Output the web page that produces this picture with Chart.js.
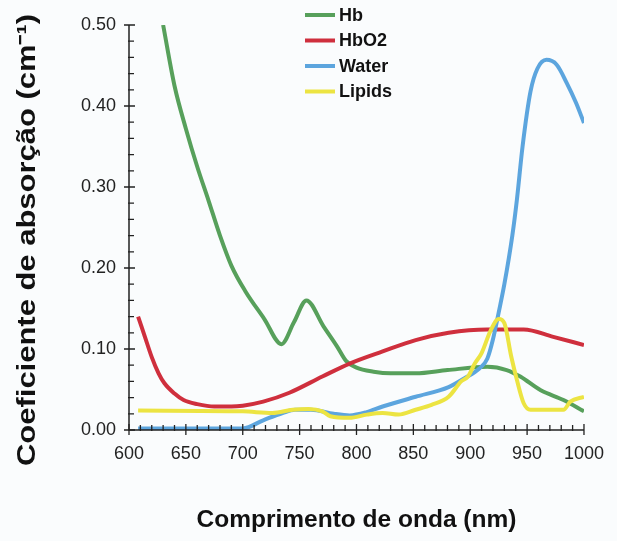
<!DOCTYPE html>
<html>
<head>
<meta charset="utf-8">
<script src="https://cdn.jsdelivr.net/npm/chart.js@4/dist/chart.umd.min.js"></script>
<style>
html,body{margin:0;padding:0;background:#fafcfd;}
canvas{display:block;}
</style>
</head>
<body>
<canvas id="c" width="617" height="541"></canvas>
<script>
// ---- data ----
const seriesNames = ["Hb", "HbO2", "Water", "Lipids"];
const seriesColors = ["#57a05b", "#cf2f3d", "#5ca5de", "#ece442"];

const hbX = [630, 640, 650, 660, 670, 680, 690, 702, 719, 734, 745, 756, 771, 783, 791, 800, 815, 830, 852, 880, 915, 932, 944, 962, 982, 1000];
const hbY = [0.500, 0.425, 0.372, 0.325, 0.283, 0.240, 0.203, 0.172, 0.137, 0.106, 0.133, 0.160, 0.128, 0.103, 0.085, 0.077, 0.072, 0.070, 0.070, 0.074, 0.078, 0.074, 0.066, 0.049, 0.037, 0.023];

const hbo2X = [608, 614, 620, 626, 631, 640, 648, 660, 675, 690, 700, 718, 741, 770, 794, 823, 852, 881, 915, 947, 973, 1000];
const hbo2Y = [0.140, 0.115, 0.090, 0.070, 0.058, 0.045, 0.037, 0.032, 0.029, 0.029, 0.030, 0.035, 0.046, 0.066, 0.082, 0.097, 0.111, 0.120, 0.124, 0.124, 0.115, 0.105];

const waterX = [608, 700, 718, 735, 746, 760, 780, 794, 809, 823, 852, 881, 895, 908, 915, 920, 925, 930, 937, 941, 946, 953, 959, 967, 976, 985, 993, 1000];
const waterY = [0.002, 0.002, 0.012, 0.021, 0.025, 0.025, 0.020, 0.018, 0.022, 0.029, 0.041, 0.053, 0.064, 0.076, 0.088, 0.112, 0.145, 0.180, 0.240, 0.284, 0.350, 0.418, 0.446, 0.457, 0.451, 0.428, 0.404, 0.379];

const lipX = [608, 700, 726, 744, 758, 770, 777, 794, 809, 823, 837, 852, 866, 881, 892, 898, 904, 910, 918, 925, 930, 936, 941, 947, 953, 982, 988, 1000];
const lipY = [0.024, 0.023, 0.021, 0.025, 0.026, 0.023, 0.017, 0.015, 0.019, 0.021, 0.019, 0.025, 0.031, 0.041, 0.060, 0.066, 0.082, 0.095, 0.123, 0.137, 0.132, 0.091, 0.062, 0.033, 0.025, 0.025, 0.035, 0.041];

const xMin = 600, xMax = 1000, xStep = 10, xMajor = 50;
const yMin = 0, yMax = 0.5, yStep = 0.02, yMajor = 0.1;
const xTitle = "Comprimento de onda (nm)";
const yTitle = "Coeficiente de absorção (cm⁻¹)";

const seriesX = [hbX, hbo2X, waterX, lipX];
const seriesY = [hbY, hbo2Y, waterY, lipY];

function pts(xs, ys){ return xs.map((x,i)=>({x:x, y:ys[i]})); }
function isMult(v, m){ const r = v/m; return Math.abs(r - Math.round(r)) < 1e-6; }

const datasets = seriesNames.map((n,i)=>({
  label: n,
  data: pts(seriesX[i], seriesY[i]),
  borderColor: seriesColors[i],
  backgroundColor: seriesColors[i],
  borderWidth: 4,
  pointRadius: 0,
  cubicInterpolationMode: 'monotone',
  fill: false,
  order: 4 - i
}));

const bgPlugin = {
  id: 'bg',
  beforeDraw(chart){
    const ctx = chart.ctx;
    ctx.save();
    ctx.fillStyle = '#fafcfd';
    ctx.fillRect(0,0,chart.width,chart.height);
    ctx.restore();
  }
};

const axesPlugin = {
  id: 'axesTicks',
  afterDraw(chart){
    const ctx = chart.ctx;
    const xs = chart.scales.x, ys = chart.scales.y;
    const x0 = xs.left, x1 = xs.right, y0 = ys.bottom, y1 = ys.top;
    ctx.save();
    ctx.strokeStyle = '#222';
    ctx.lineWidth = 1.5;
    ctx.beginPath();
    ctx.moveTo(x0, y1); ctx.lineTo(x0, y0); ctx.lineTo(x1, y0);
    ctx.stroke();
    ctx.lineWidth = 1.3;
    ctx.beginPath();
    xs.ticks.forEach(t=>{
      const px = xs.getPixelForValue(t.value);
      if (isMult(t.value, xMajor)) { ctx.moveTo(px, y0+5); ctx.lineTo(px, y0-6); }
      else { ctx.moveTo(px, y0+1); ctx.lineTo(px, y0-5); }
    });
    ys.ticks.forEach(t=>{
      const py = ys.getPixelForValue(t.value);
      if (isMult(t.value, yMajor)) { ctx.moveTo(x0-5, py); ctx.lineTo(x0+6, py); }
      else { ctx.moveTo(x0-1, py); ctx.lineTo(x0+5, py); }
    });
    ctx.stroke();

    // y axis title, stretched along its length like the reference
    ctx.font = 'bold 25px "Liberation Sans", Arial, sans-serif';
    ctx.fillStyle = '#111';
    ctx.textAlign = 'center';
    ctx.textBaseline = 'middle';
    const w = ctx.measureText(yTitle).width;
    const sx = 452 / w;
    ctx.translate(28, 240);
    ctx.rotate(-Math.PI/2);
    ctx.scale(sx, 1);
    ctx.fillText(yTitle, 0, 0);
    ctx.restore();
  }
};

const legendPlugin = {
  id: 'legendBox',
  afterDraw(chart){
    const ctx = chart.ctx;
    ctx.save();
    ctx.font = 'bold 18px "Liberation Sans", Arial, sans-serif';
    ctx.textBaseline = 'middle';
    ctx.textAlign = 'left';
    chart.data.datasets.forEach((d,i)=>{
      const y = 15 + i*25.5;
      ctx.strokeStyle = d.borderColor;
      ctx.lineWidth = 4;
      ctx.beginPath(); ctx.moveTo(305, y); ctx.lineTo(335, y); ctx.stroke();
      ctx.fillStyle = '#111';
      ctx.fillText(d.label, 339, y+1);
    });
    ctx.restore();
  }
};

new Chart(document.getElementById('c'), {
  type: 'line',
  data: { datasets: datasets },
  options: {
    responsive: false,
    animation: false,
    layout: { padding: { left: 0, right: 26, top: 25, bottom: 0 } },
    plugins: { legend: { display: false }, tooltip: { enabled: false } },
    scales: {
      x: {
        type: 'linear', min: xMin, max: xMax,
        grid: { display: false, drawTicks: false },
        border: { display: false },
        ticks: {
          stepSize: xStep, autoSkip: false, maxRotation: 0,
          color: '#222', padding: 13,
          font: { family: '"Liberation Sans", Arial, sans-serif', size: 18 },
          callback: v => isMult(v, xMajor) ? String(v) : ''
        },
        title: {
          display: true, text: xTitle, color: '#111',
          font: { family: '"Liberation Sans", Arial, sans-serif', size: 24.5, weight: 'bold' },
          padding: { top: 0, bottom: 6 }
        },
        afterFit: s => { s.height = 111; }
      },
      y: {
        type: 'linear', min: yMin, max: yMax,
        grid: { display: false, drawTicks: false },
        border: { display: false },
        ticks: {
          stepSize: yStep, autoSkip: false,
          color: '#222', padding: 13,
          font: { family: '"Liberation Sans", Arial, sans-serif', size: 18 },
          callback: v => isMult(v, yMajor) ? v.toFixed(2) : ''
        },
        title: { display: false },
        afterFit: s => { s.width = 129; }
      }
    }
  },
  plugins: [bgPlugin, axesPlugin, legendPlugin]
});
</script>
</body>
</html>
